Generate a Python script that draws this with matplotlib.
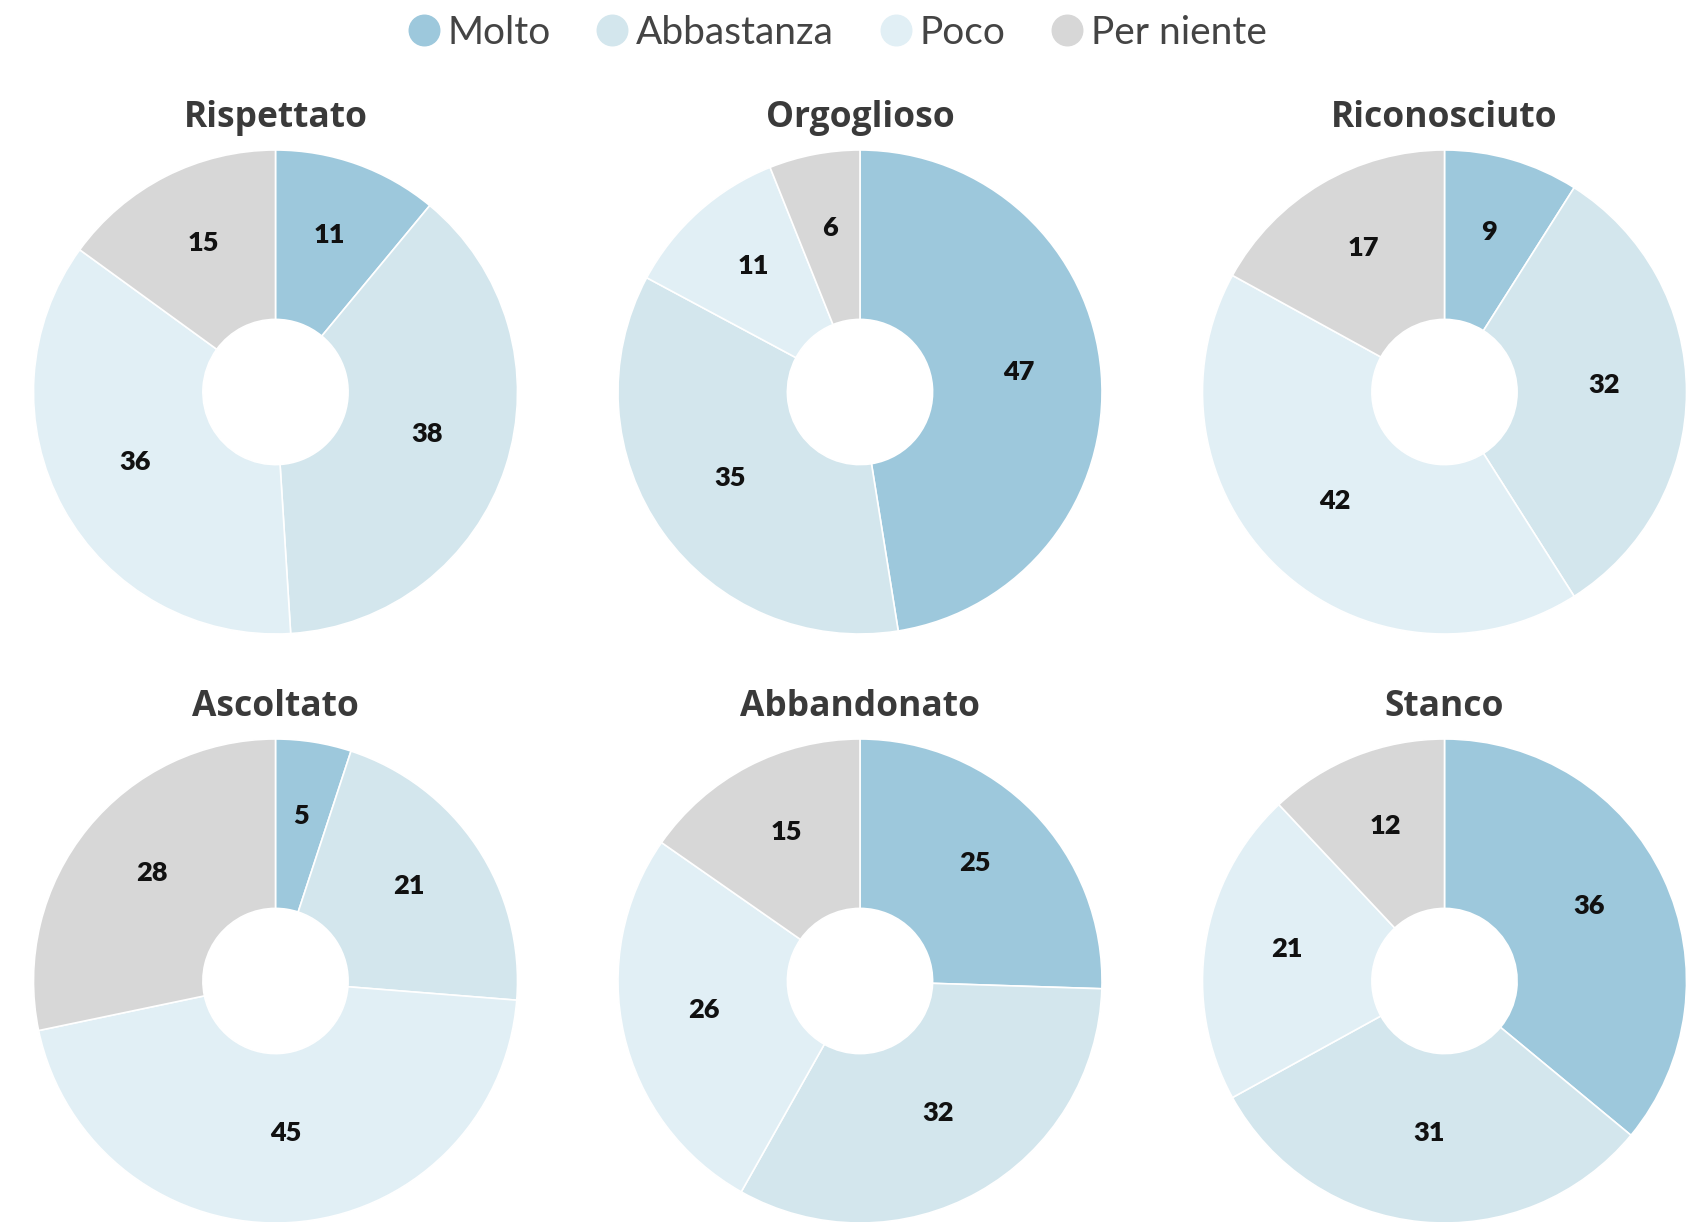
import matplotlib
matplotlib.use("Agg")
import matplotlib.pyplot as plt
from matplotlib.lines import Line2D
from matplotlib.transforms import offset_copy

categories = ["Molto", "Abbastanza", "Poco", "Per niente"]
colors = ["#9dc8dc", "#d3e6ed", "#e1eff5", "#d7d7d7"]

titles = ["Rispettato", "Orgoglioso", "Riconosciuto",
          "Ascoltato", "Abbandonato", "Stanco"]
rispettato = [11, 38, 36, 15]
orgoglioso = [47, 35, 11, 6]
riconosciuto = [9, 32, 42, 17]
ascoltato = [5, 21, 45, 28]
abbandonato = [25, 32, 26, 15]
stanco = [36, 31, 21, 12]
series = [rispettato, orgoglioso, riconosciuto, ascoltato, abbandonato, stanco]

plt.rcParams['font.family'] = ['Lato', 'DejaVu Sans']

W, H = 1694, 1222
fig = plt.figure(figsize=(W / 100, H / 100), dpi=100)
fig.patch.set_facecolor("white")

cx = [275.5, 860, 1444.5]
cy = [392, 981]
R = 242

for i, (title, vals) in enumerate(zip(titles, series)):
    x0 = cx[i % 3]
    y0 = cy[i // 3]
    ax = fig.add_axes([(x0 - R) / W, (H - y0 - R) / H, 2 * R / W, 2 * R / H])
    wedges, texts = ax.pie(
        vals, colors=colors, startangle=90, counterclock=False,
        labels=[str(v) for v in vals], labeldistance=0.66,
        wedgeprops=dict(width=0.70, edgecolor="white", linewidth=1.2),
        textprops=dict(fontsize=19.5, fontweight="heavy", color="#111111",
                       ha="center", va="center"),
    )
    up = offset_copy(ax.transData, fig=fig, x=0, y=5.0, units="points")
    for t in texts:
        t.set_ha("center")
        t.set_va("center")
        t.set_transform(up)
    ax.set_xlim(-1, 1)
    ax.set_ylim(-1, 1)
    ax.set_aspect("equal")
    ax.text(0.5, 1.066, title, transform=ax.transAxes, ha="center", va="center",
            fontsize=25.5, fontweight="bold", color="#3a3a3a",
            family=["Open Sans", "DejaVu Sans"])

handles = [Line2D([0], [0], marker="o", linestyle="", markersize=22,
                  markerfacecolor=c, markeredgecolor=c) for c in colors]
fig.legend(handles, categories, loc="center", bbox_to_anchor=(0.492, 1 - 33 / H),
           ncol=4, frameon=False, fontsize=28, handletextpad=0.0,
           columnspacing=1.0, labelcolor="#444444", handlelength=1.2)

fig.savefig("out.png", dpi=100, facecolor="white")
